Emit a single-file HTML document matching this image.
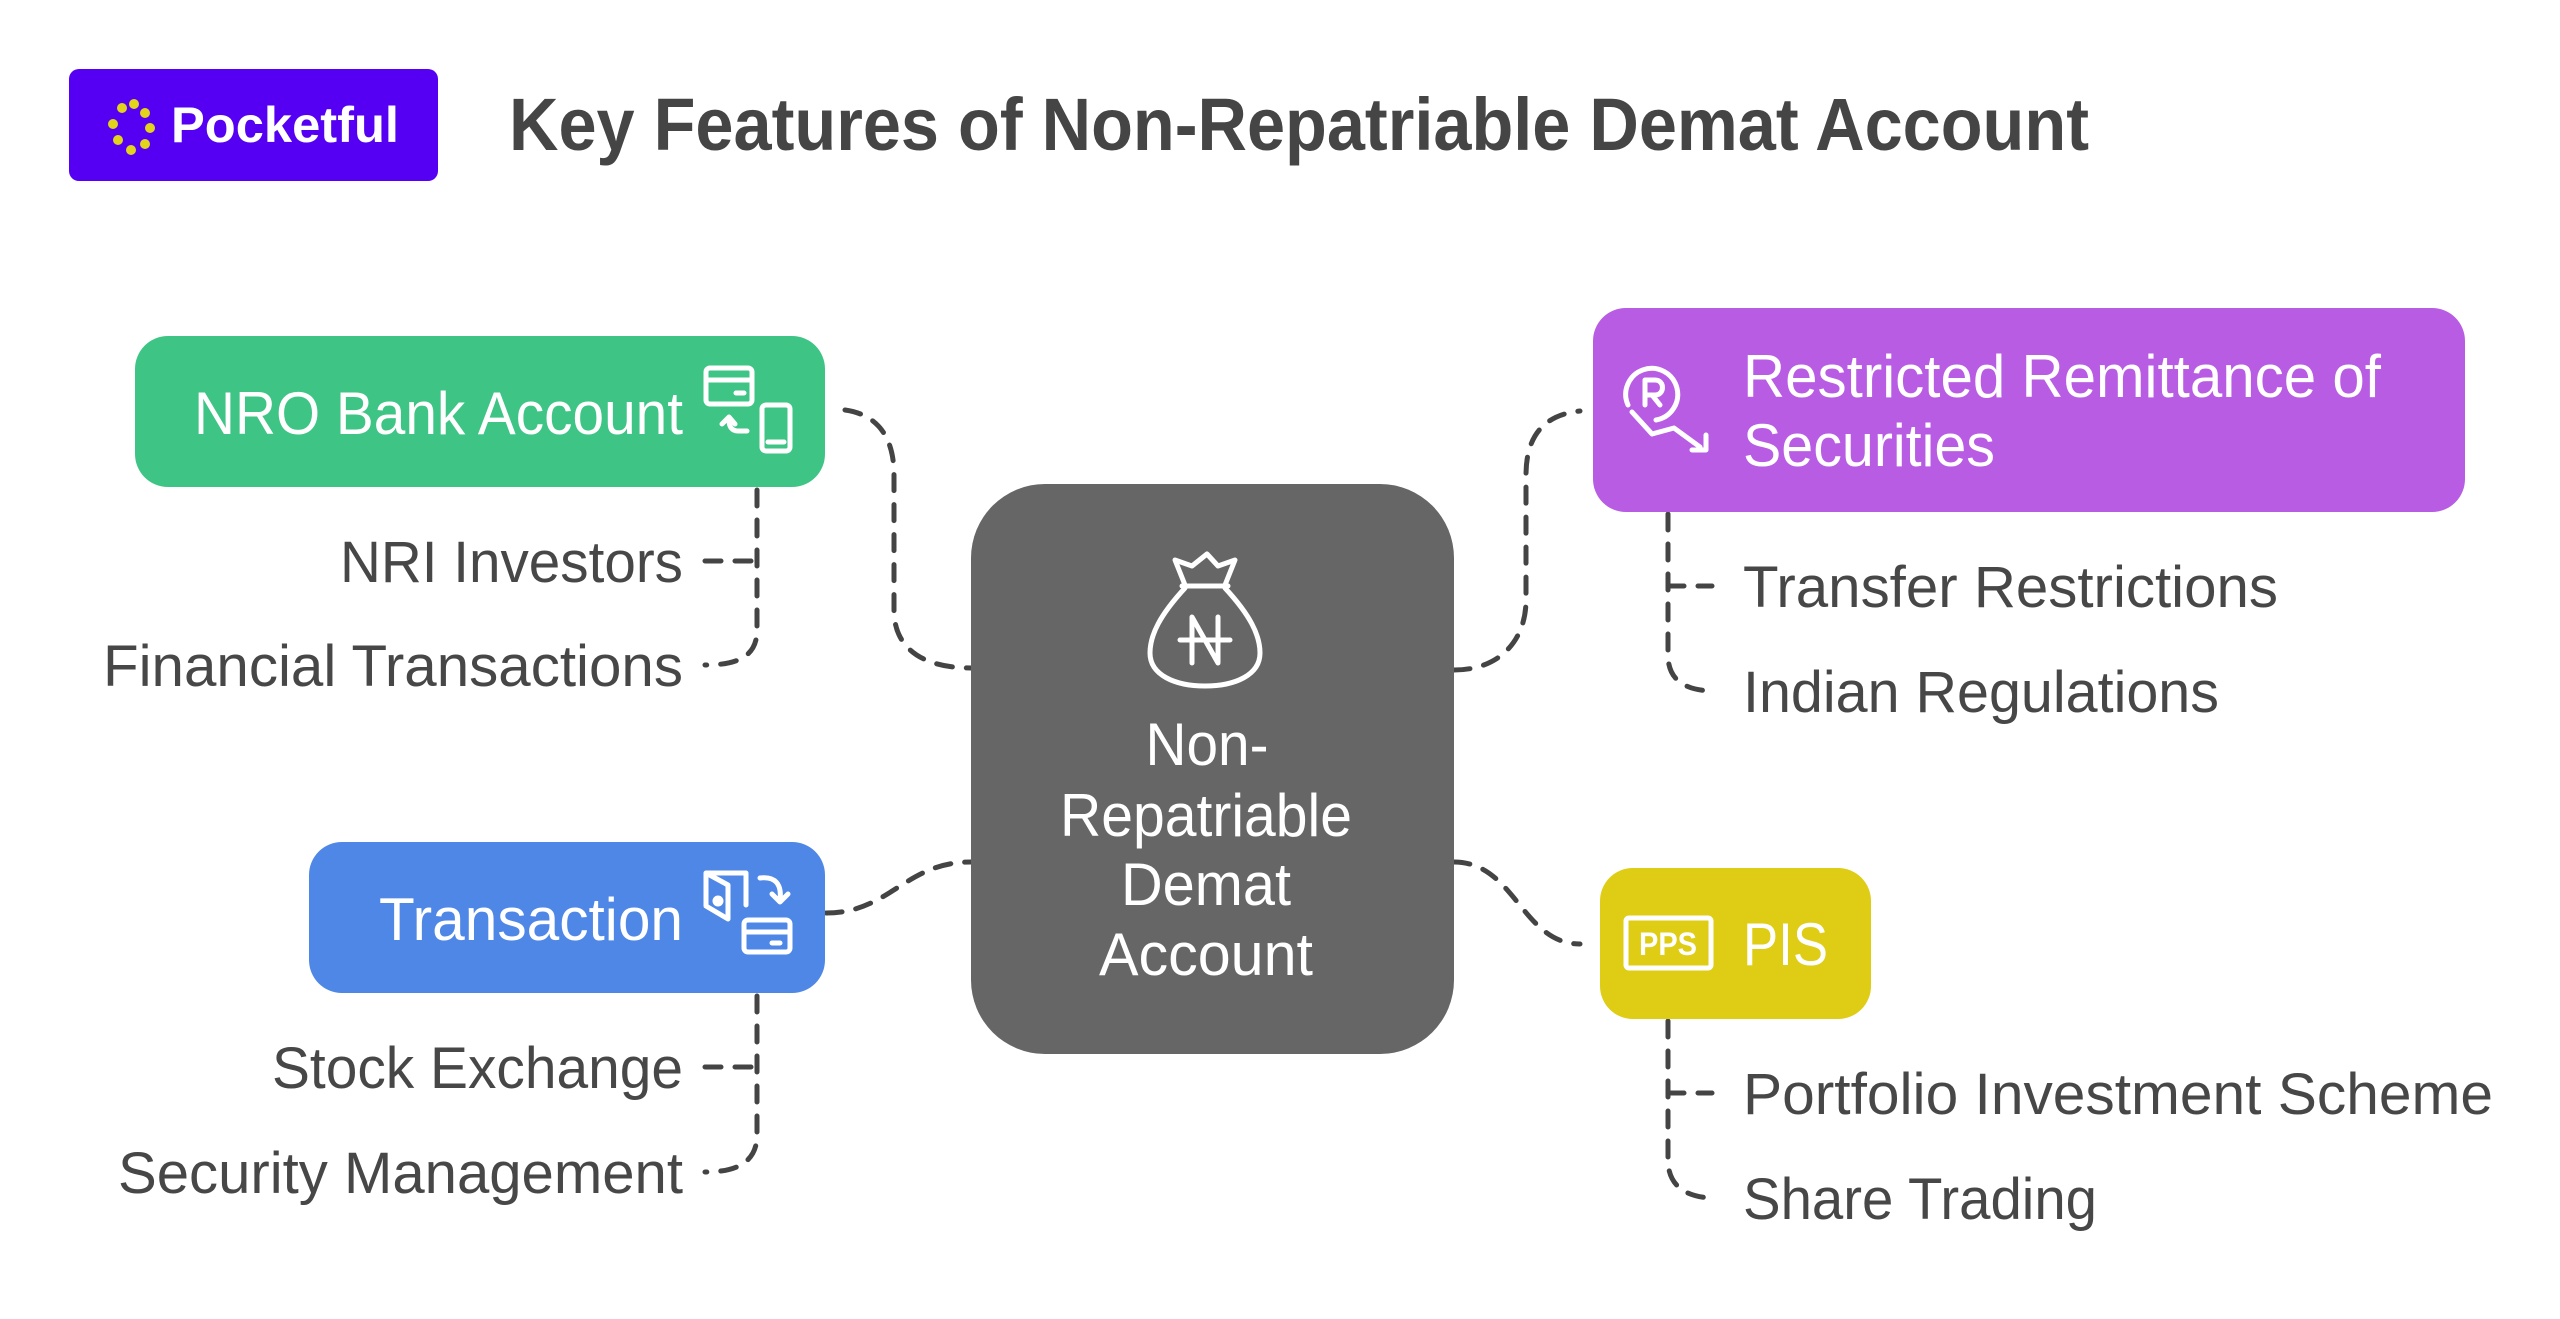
<!DOCTYPE html>
<html><head><meta charset="utf-8"><style>
html,body{margin:0;padding:0;background:#fff;}
svg{display:block;}
text{font-family:"Liberation Sans",sans-serif;}
</style></head><body>
<svg width="2560" height="1319" viewBox="0 0 2560 1319" xmlns="http://www.w3.org/2000/svg">
<rect width="2560" height="1319" fill="#fff"/>
<!-- logo -->
<rect x="69" y="69" width="369" height="112" rx="10" fill="#5500f2"/>
<g fill="#e2d31c">
<circle cx="122" cy="108" r="5"/><circle cx="134" cy="104" r="5"/><circle cx="145" cy="113" r="5"/>
<circle cx="113" cy="124" r="5"/><circle cx="150" cy="128" r="5"/><circle cx="118" cy="140" r="5"/>
<circle cx="131" cy="150" r="5"/><circle cx="145" cy="144" r="5"/>
</g>
<text x="171" y="142" font-size="50" font-weight="bold" fill="#fff" textLength="228" lengthAdjust="spacingAndGlyphs">Pocketful</text>
<text x="509" y="150" font-size="74" font-weight="bold" fill="#454545" textLength="1580" lengthAdjust="spacingAndGlyphs">Key Features of Non-Repatriable Demat Account</text>

<!-- connectors -->
<g fill="none" stroke="#444" stroke-width="5" stroke-dasharray="16 14" stroke-linecap="round">
<path d="M845,410 C880,415 894,440 894,475 L894,610 C894,650 925,668 971,668"/>
<path d="M826,913 C890,913 905,862 971,862"/>
<path d="M1454,670 C1500,670 1526,640 1526,600 L1526,475 C1526,430 1550,414 1580,411"/>
<path d="M1454,862 C1515,862 1522,944 1580,944"/>
<path d="M757,490 L757,630 C757,655 740,665 705,665"/>
<path d="M705,561 L757,561"/>
<path d="M757,996 L757,1135 C757,1160 740,1172 705,1172"/>
<path d="M705,1067 L757,1067"/>
<path d="M1668,514 L1668,655 C1668,680 1685,691 1715,691"/>
<path d="M1668,586 L1712,586"/>
<path d="M1668,1021 L1668,1160 C1668,1185 1685,1198 1715,1198"/>
<path d="M1668,1093 L1712,1093"/>
</g>

<!-- green -->
<rect x="135" y="336" width="690" height="151" rx="33" fill="#3ec585"/>
<text x="194" y="434" font-size="60" fill="#fff" textLength="489" lengthAdjust="spacingAndGlyphs">NRO Bank Account</text>
<g fill="none" stroke="#fff" stroke-width="5" stroke-linecap="round" stroke-linejoin="round">
<rect x="706" y="368" width="46" height="36" rx="4"/><line x1="706" y1="380" x2="752" y2="380"/><line x1="736" y1="393" x2="744" y2="393"/>
<rect x="762" y="405" width="28" height="46" rx="4"/><line x1="768" y1="442" x2="784" y2="442"/>
<path d="M747,431 L738,431 C732,431 729,427 729,420 M722,424 L729,417 L735,424"/>
</g>

<!-- blue -->
<rect x="309" y="842" width="516" height="151" rx="33" fill="#4e87e6"/>
<text x="379" y="940" font-size="60" fill="#fff" textLength="304" lengthAdjust="spacingAndGlyphs">Transaction</text>
<g fill="none" stroke="#fff" stroke-width="5" stroke-linecap="round" stroke-linejoin="round">
<path d="M706,873 L706,906 L728,919 L728,885 Z M728,873 L706,873 M728,873 L746,873 L746,905"/>
<circle cx="718" cy="901" r="3" fill="#fff"/>
<path d="M760,878 C775,876 782,884 780,900 M772,894 L780,902 L788,894"/>
<rect x="744" y="920" width="46" height="32" rx="4"/><line x1="744" y1="932" x2="790" y2="932"/><line x1="772" y1="943" x2="780" y2="943"/>
</g>

<!-- center -->
<rect x="971" y="484" width="483" height="570" rx="74" fill="#666"/>
<g fill="none" stroke="#fff" stroke-width="5" stroke-linecap="round" stroke-linejoin="round">
<path d="M1185,585 L1175,560 L1192,566 L1207,554 L1218,566 L1235,560 L1225,585"/>
<line x1="1182" y1="586" x2="1228" y2="586"/>
<path d="M1185,588 C1160,615 1150,635 1150,653 C1150,675 1175,686 1205,686 C1235,686 1260,675 1260,653 C1260,635 1250,615 1225,588"/>
<path d="M1192,663 L1192,617 L1218,663 L1218,617 M1180,640 L1230,640"/>
</g>
<g font-size="60" fill="#fff" text-anchor="middle">
<text x="1207" y="765" textLength="123" lengthAdjust="spacingAndGlyphs">Non-</text>
<text x="1206" y="836" textLength="292" lengthAdjust="spacingAndGlyphs">Repatriable</text>
<text x="1206" y="905" textLength="170" lengthAdjust="spacingAndGlyphs">Demat</text>
<text x="1206" y="975" textLength="214" lengthAdjust="spacingAndGlyphs">Account</text>
</g>

<!-- purple -->
<rect x="1593" y="308" width="872" height="204" rx="33" fill="#b75ce3"/>
<text x="1743" y="397" font-size="60" fill="#fff" textLength="638" lengthAdjust="spacingAndGlyphs">Restricted Remittance of</text>
<text x="1743" y="466" font-size="60" fill="#fff" textLength="252" lengthAdjust="spacingAndGlyphs">Securities</text>
<g fill="none" stroke="#fff" stroke-width="5" stroke-linecap="round" stroke-linejoin="round">
<path d="M1628,405 A26,26 0 1 1 1656,420"/>
<path d="M1645,405 L1645,380 L1655,380 C1665,380 1665,395 1655,395 L1645,395 M1652,395 L1660,405"/>
<path d="M1632,412 L1652,434 L1674,428 L1700,447 M1706,435 L1706,450 L1692,450"/>
</g>

<!-- yellow -->
<rect x="1600" y="868" width="271" height="151" rx="33" fill="#dfcc15"/>
<rect x="1626" y="918" width="85" height="50" rx="3" fill="none" stroke="#fff" stroke-width="5"/>
<text x="1668" y="955" font-size="32" font-weight="bold" fill="#fff" text-anchor="middle" textLength="58" lengthAdjust="spacingAndGlyphs">PPS</text>
<text x="1743" y="965" font-size="60" fill="#fff" textLength="85" lengthAdjust="spacingAndGlyphs">PIS</text>

<!-- sub labels -->
<g font-size="58" fill="#474747">
<g text-anchor="end">
<text x="683" y="582" textLength="343" lengthAdjust="spacingAndGlyphs">NRI Investors</text>
<text x="683" y="686" textLength="580" lengthAdjust="spacingAndGlyphs">Financial Transactions</text>
<text x="683" y="1088" textLength="411" lengthAdjust="spacingAndGlyphs">Stock Exchange</text>
<text x="683" y="1193" textLength="565" lengthAdjust="spacingAndGlyphs">Security Management</text>
</g>
<text x="1743" y="607" textLength="535" lengthAdjust="spacingAndGlyphs">Transfer Restrictions</text>
<text x="1743" y="712" textLength="476" lengthAdjust="spacingAndGlyphs">Indian Regulations</text>
<text x="1743" y="1114" textLength="750" lengthAdjust="spacingAndGlyphs">Portfolio Investment Scheme</text>
<text x="1743" y="1219" textLength="354" lengthAdjust="spacingAndGlyphs">Share Trading</text>
</g>
</svg>
</body></html>
